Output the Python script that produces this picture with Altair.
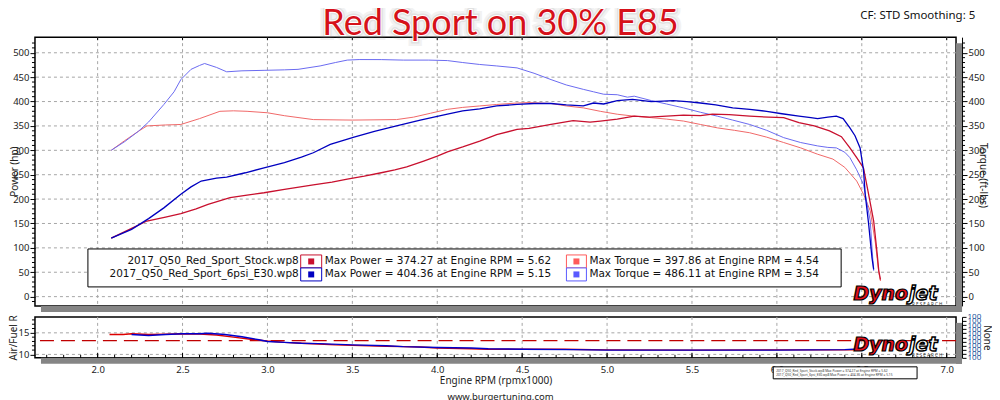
import altair as alt
import pandas as pd

# ---------------- data ----------------
stock_power_rpm = [2.08, 2.2, 2.29, 2.4, 2.49, 2.58, 2.65, 2.78, 2.88, 2.98, 3.1, 3.27, 3.38, 3.47, 3.57, 3.67,
                   3.75, 3.82, 3.92, 4.0, 4.06, 4.15, 4.25, 4.35, 4.47, 4.54, 4.67, 4.8, 4.9, 4.96, 5.06, 5.16,
                   5.25, 5.35, 5.45, 5.55, 5.62, 5.72, 5.84, 5.95, 6.04, 6.13, 6.22, 6.31, 6.38, 6.43, 6.47,
                   6.51, 6.54, 6.57, 6.59, 6.6, 6.61]
stock_power_hp = [120, 140, 155, 163, 170, 180, 189, 203, 208, 213, 220, 229, 235, 241, 247, 254,
                  260, 266, 278, 288, 297, 307, 319, 332, 343, 345, 353, 361, 358, 360, 364, 370,
                  368, 370, 372, 371, 374.27, 373, 370, 368, 367, 357, 350, 340, 328, 305, 285,
                  264, 210, 155, 90, 53, 35]

tuned_power_rpm = [2.08, 2.2, 2.3, 2.39, 2.49, 2.55, 2.61, 2.7, 2.76, 2.87, 2.98, 3.1, 3.2, 3.27, 3.37, 3.51,
                   3.63, 3.76, 3.9, 4.06, 4.15, 4.25, 4.35, 4.47, 4.57, 4.67, 4.76, 4.86, 4.92, 4.98, 5.06,
                   5.15, 5.26, 5.33, 5.39, 5.47, 5.55, 5.64, 5.74, 5.84, 5.94, 6.03, 6.13, 6.2, 6.24, 6.3,
                   6.35, 6.39, 6.43, 6.46, 6.49, 6.51, 6.52, 6.54, 6.56, 6.57]
tuned_power_hp = [120, 138, 160, 182, 210, 225, 237, 243, 245, 254, 264, 275, 286, 295, 312, 327,
                  339, 350, 362, 374, 381, 385, 391, 394, 396, 396, 393, 391, 397, 395, 402,
                  404.36, 400, 401, 402, 400, 397, 393, 387, 384, 380, 375, 370, 367, 365, 368,
                  370, 365, 346, 330, 305, 260, 210, 150, 80, 56]

stock_torque_rpm = [2.08, 2.16, 2.24, 2.29, 2.4, 2.49, 2.6, 2.72, 2.8, 2.88, 3.0, 3.1, 3.27, 3.5, 3.76, 3.86,
                    3.96, 4.06, 4.15, 4.25, 4.35, 4.47, 4.54, 4.67, 4.76, 4.86, 4.96, 5.06, 5.16, 5.26,
                    5.35, 5.45, 5.55, 5.65, 5.75, 5.84, 5.94, 6.04, 6.14, 6.24, 6.33, 6.4, 6.47, 6.51,
                    6.55, 6.58, 6.6, 6.61]
stock_torque_ftlb = [300, 320, 339, 350, 352, 353, 365, 380, 381, 380, 377, 371, 363, 362, 363, 368,
                     376, 384, 388, 391, 394, 397, 397.86, 396, 391, 387, 380, 374, 370, 367,
                     364, 360, 353, 346, 341, 336, 327, 316, 305, 292, 282, 265, 237, 210,
                     176, 110, 50, 32]

tuned_torque_rpm = [2.08, 2.16, 2.24, 2.3, 2.39, 2.45, 2.49, 2.55, 2.6, 2.63, 2.7, 2.76, 2.85, 2.98, 3.1, 3.18,
                    3.31, 3.4, 3.47, 3.54, 3.67, 3.8, 3.95, 4.06, 4.15, 4.25, 4.35, 4.47, 4.57, 4.67, 4.76,
                    4.86, 4.92, 4.98, 5.06, 5.12, 5.16, 5.26, 5.35, 5.45, 5.55, 5.65, 5.74, 5.84, 5.94,
                    6.04, 6.14, 6.24, 6.3, 6.35, 6.4, 6.43, 6.47, 6.51, 6.55, 6.56, 6.57]
tuned_torque_ftlb = [300, 318, 339, 358, 394, 420, 445, 466, 474, 478, 470, 461, 463, 464, 465, 466,
                     473, 480, 485, 486.11, 486, 485, 485, 484, 480, 476, 473, 469, 458, 445, 434,
                     425, 420, 415, 414, 409, 411, 402, 395, 387, 378, 370, 362, 353, 341,
                     326, 316, 309, 306, 305, 296, 285, 260, 230, 155, 100, 53]

afr_stock_rpm = [2.07, 2.15, 2.2, 2.3, 2.4, 2.5, 2.6, 2.7, 2.8, 2.9, 3.0, 3.1, 3.2, 3.3, 3.4, 3.5, 3.6, 3.7,
                 3.8, 3.9, 4.0, 4.2, 4.3, 4.5, 4.75, 5.0, 5.5, 6.0, 6.45]
afr_stock = [14.6, 14.6, 14.8, 14.6, 14.7, 14.8, 14.7, 14.5, 14.0, 13.5, 13.1, 12.8, 12.6, 12.4, 12.2, 12.1,
             12.0, 11.9, 11.8, 11.7, 11.5, 11.3, 11.2, 11.2, 11.2, 11.05, 11.0, 11.05, 11.05]
afr_tuned_rpm = [2.2, 2.3, 2.4, 2.5, 2.6, 2.65, 2.75, 2.85, 2.95, 3.0, 3.1, 3.2, 3.3, 3.5, 3.7, 3.8, 4.0,
                 4.2, 4.3, 4.5, 4.8, 5.0, 5.5, 6.0, 6.4, 6.5]
afr_tuned = [14.6, 14.4, 14.6, 14.8, 14.8, 14.9, 14.6, 14.1, 13.4, 13.0, 12.8, 12.6, 12.5, 12.2, 12.0, 11.8,
             11.6, 11.5, 11.3, 11.2, 11.1, 11.0, 11.0, 11.0, 11.1, 11.3]
afr_target = [13.2]

runs = ["2017_Q50_Red_Sport_Stock.wp8", "2017_Q50_Red_Sport_6psi_E30.wp8"]
max_power = ["374.27", "404.36"]
max_power_rpm = ["5.62", "5.15"]
max_torque = ["397.86", "486.11"]
max_torque_rpm = ["4.54", "3.54"]

x_ticks = [2.0, 2.5, 3.0, 3.5, 4.0, 4.5, 5.0, 5.5, 6.0, 6.5, 7.0]
x_minor = [round(1.7 + 0.1 * i, 1) for i in range(54)]
y_ticks = [0, 50, 100, 150, 200, 250, 300, 350, 400, 450, 500]
y_minor = [v for v in range(-10, 530, 10) if v % 50 != 0]
afr_ticks = [10, 15]
afr_minor = [11, 12, 13, 14, 16, 17, 18]
none_ticks = [0, 10, 20, 30, 40, 50, 60, 70, 80, 90, 100]

title_text = "Red Sport on 30% E85"
cf_text = "CF: STD Smoothing: 5"
site_text = "www.burgertuning.com"

# ---------------- styling ----------------
W, HM, HA = 922, 269, 41
XD = [1.631, 7.055]
YD = [-19, 532]
AD = [9.2, 18.7]
FONT = "Noto Sans"
LFONT = "DejaVu Sans"
GRID = "#a6a6a6"
SHADOW = "#858585"
C_SP, C_TP = "#c8102e", "#0000c0"
C_ST, C_TT = "#f06868", "#6a6af0"

xs = alt.Scale(domain=XD, nice=False, zero=False)
ys = alt.Scale(domain=YD, nice=False, zero=False)
afs = alt.Scale(domain=AD, nice=False, zero=False)


def line(rpm, vals, color, width, scale):
    df = pd.DataFrame({"rpm": rpm, "v": vals})
    return alt.Chart(df).mark_line(color=color, strokeWidth=width, clip=True).encode(
        x=alt.X("rpm:Q", scale=xs, axis=None),
        y=alt.Y("v:Q", scale=scale, axis=None),
    )


def vals(values):
    return pd.DataFrame({"v": values})


def rect(x, x2, y, y2, **kw):
    return alt.Chart(vals([0])).mark_rect(**kw).encode(
        x=alt.value(x), x2=alt.value(x2), y=alt.value(y), y2=alt.value(y2))


def text(t, x, y, **kw):
    return alt.Chart(vals([0])).mark_text(text=t, **kw).encode(x=alt.value(x), y=alt.value(y))


def dynojet(x, y):
    return [
        text("Dyno", x, y, align="right", baseline="alphabetic", font="DejaVu Sans", fontStyle="italic",
             fontWeight="bold", fontSize=19, fill="#e3101c", stroke="black", strokeWidth=1.2),
        text("jet", x + 1, y, align="left", baseline="alphabetic", font="DejaVu Sans", fontStyle="italic",
             fontWeight="bold", fontSize=19, fill="white", stroke="black", strokeWidth=1.4),
        text("R E S E A R C H", x + 4, y + 5, align="left", baseline="middle", font=FONT, fontSize=4.5,
             color="#333"),
    ]


# ---------------- main panel ----------------
vgrid_main = alt.Chart(vals(x_ticks)).mark_rule(color=GRID, strokeDash=[3, 3], strokeWidth=1).encode(
    x=alt.X("v:Q", scale=xs, axis=None))
hgrid_main = alt.Chart(vals(y_ticks)).mark_rule(color=GRID, strokeDash=[3, 3], strokeWidth=1).encode(
    y=alt.Y("v:Q", scale=ys, axis=alt.Axis(orient="left", values=y_ticks, title="Power (hp)", grid=False,
                                           domain=False, tickSize=5, tickColor="black", labelPadding=1,
                                           titleX=-15, titleY=134)))
right_axis = alt.Chart(vals(y_ticks)).mark_rule(opacity=0).encode(
    y=alt.Y("v:Q", scale=ys, axis=alt.Axis(orient="right", values=y_ticks, title="Torque (ft-lbs)", grid=False,
                                           offset=6, domain=True, domainColor="black", tickSize=5,
                                           tickColor="black", labelPadding=1, titleX=15, titleY=138)))
minor_left = alt.Chart(vals(y_minor)).mark_rule(color="black").encode(
    y=alt.Y("v:Q", scale=ys, axis=None), x=alt.value(-3), x2=alt.value(0))
minor_right = alt.Chart(vals(y_minor)).mark_rule(color="black").encode(
    y=alt.Y("v:Q", scale=ys, axis=None), x=alt.value(W + 6), x2=alt.value(W + 9))
top_ticks = alt.Chart(vals(x_ticks)).mark_rule(color="black").encode(
    x=alt.X("v:Q", scale=xs, axis=None), y=alt.value(0), y2=alt.value(3))

shadows_main = [rect(W, W + 6, 6, HM + 6, color=SHADOW), rect(6, W + 6, HM, HM + 6, color=SHADOW)]

# title with soft glow
TY, TS = -2, 36
title_layers = [
    text(title_text, 466, TY, align="center", baseline="alphabetic", font="Lato", fontSize=TS,
         fill="#888", stroke="#888", strokeWidth=10, opacity=0.10),
    text(title_text, 466, TY, align="center", baseline="alphabetic", font="Lato", fontSize=TS,
         fill="#888", stroke="#888", strokeWidth=5, opacity=0.15),
    text(title_text, 466, TY, align="center", baseline="alphabetic", font="Lato", fontSize=TS,
         fill="white", stroke="white", strokeWidth=2),
    text(title_text, 466, TY, align="center", baseline="alphabetic", font="Lato", fontSize=TS,
         fill="#d6111a"),
]
cf = text(cf_text, 826, -21, align="left", baseline="middle", font=FONT, fontSize=11.5, color="#111")

# legend box
LX, LX2, LY, LY2 = 53, 807, 212, 250
legend = [rect(LX, LX2, LY, LY2, fill="white", stroke="black", strokeWidth=1)]
row_y = [224.5, 237.5]
pcol = [C_SP, C_TP]
tcol = ["#ff5a5a", "#5a5aff"]
for i in range(2):
    yc = row_y[i]
    legend.append(text(runs[i], 264, yc, align="right", baseline="middle", font=LFONT, fontSize=10.5,
                       color="#111"))
    legend.append(rect(266, 287, yc - 6.5, yc + 6.5, fill="white", stroke=pcol[i], strokeWidth=1))
    legend.append(rect(273.5, 279.5, yc - 3, yc + 3, color=pcol[i]))
    legend.append(text("Max Power = %s at Engine RPM = %s" % (max_power[i], max_power_rpm[i]), 290, yc,
                       align="left", baseline="middle", font=LFONT, fontSize=10.5, color="#111"))
    legend.append(rect(532, 552, yc - 6.5, yc + 6.5, fill="white", stroke=tcol[i], strokeWidth=1))
    legend.append(rect(539, 545, yc - 3, yc + 3, color=tcol[i]))
    legend.append(text("Max Torque = %s at Engine RPM = %s" % (max_torque[i], max_torque_rpm[i]), 555, yc,
                       align="left", baseline="middle", font=LFONT, fontSize=10.5, color="#111"))

main = alt.layer(
    *shadows_main, vgrid_main, hgrid_main, right_axis, minor_left, minor_right, top_ticks,
    line(stock_torque_rpm, stock_torque_ftlb, C_ST, 1, ys),
    line(tuned_torque_rpm, tuned_torque_ftlb, C_TT, 1, ys),
    line(stock_power_rpm, stock_power_hp, C_SP, 1.3, ys),
    line(tuned_power_rpm, tuned_power_hp, C_TP, 1.3, ys),
    *legend, *dynojet(874, 263), *title_layers, cf,
).resolve_axis(y="independent").properties(width=W, height=HM)

# ---------------- AFR panel ----------------
vgrid_afr = alt.Chart(vals(x_ticks)).mark_rule(color=GRID, strokeDash=[3, 3], strokeWidth=1).encode(
    x=alt.X("v:Q", scale=xs, axis=alt.Axis(orient="bottom", values=x_ticks, format=".1f", grid=False,
                                           ticks=False, domain=False, offset=6, labelPadding=1,
                                           title="Engine RPM (rpmx1000)", titlePadding=1)))
hgrid_afr = alt.Chart(vals(afr_ticks)).mark_rule(color=GRID, strokeDash=[3, 3], strokeWidth=1).encode(
    y=alt.Y("v:Q", scale=afs, axis=alt.Axis(orient="left", values=afr_ticks, title="Air/Fuel R", grid=False,
                                            domain=False, tickSize=5, tickColor="black", labelPadding=1,
                                            titleX=-16, titleY=20.5)))
afr_minor_ticks = alt.Chart(vals(afr_minor)).mark_rule(color="black").encode(
    y=alt.Y("v:Q", scale=afs, axis=None), x=alt.value(-3), x2=alt.value(0))
target = alt.Chart(vals(afr_target)).mark_rule(color="#c00000", strokeDash=[14, 7], strokeWidth=1.4).encode(
    y=alt.Y("v:Q", scale=afs, axis=None))
in_major = alt.Chart(vals(x_ticks)).mark_rule(color="black").encode(
    x=alt.X("v:Q", scale=xs, axis=None), y=alt.value(HA - 5), y2=alt.value(HA))
in_minor = alt.Chart(vals(x_minor)).mark_rule(color="black").encode(
    x=alt.X("v:Q", scale=xs, axis=None), y=alt.value(HA - 3), y2=alt.value(HA))
none_axis = alt.Chart(vals(none_ticks)).mark_rule(opacity=0).encode(
    y=alt.Y("v:Q", scale=alt.Scale(domain=[0, 100], nice=False),
            axis=alt.Axis(orient="right", values=none_ticks, labelExpr="'100'", title="None", grid=False,
                          offset=6, domain=True, domainColor="black", tickSize=4, tickColor="black",
                          labelFontSize=8, labelColor="#23559c", labelPadding=1, labelOverlap=False,
                          titleX=19, titleY=20.5)))
shadows_afr = [rect(W, W + 6, 6, HA + 6, color=SHADOW), rect(6, W + 6, HA, HA + 6, color=SHADOW)]
mini_legend = [
    rect(739, 883, 50, 62, fill="white", stroke="black", strokeWidth=1),
    text("2017_Q50_Red_Sport_Stock.wp8  Max Power = 374.27 at Engine RPM = 5.62", 742, 54, align="left",
         baseline="middle", font=FONT, fontSize=3.2, color="#333"),
    text("2017_Q50_Red_Sport_6psi_E30.wp8  Max Power = 404.36 at Engine RPM = 5.15", 742, 58.5, align="left",
         baseline="middle", font=FONT, fontSize=3.2, color="#333"),
]
site = text(site_text, 466, 80, align="center", baseline="middle", font=FONT, fontSize=9.5, color="#222")

afr = alt.layer(
    *shadows_afr, vgrid_afr, hgrid_afr, afr_minor_ticks, target, in_major, in_minor,
    line(afr_stock_rpm, afr_stock, "#dd0000", 1.4, afs),
    line(afr_tuned_rpm, afr_tuned, "#0000cc", 1.4, afs),
    none_axis, *dynojet(874, 34), *mini_legend, site,
).resolve_scale(y="independent").resolve_axis(x="independent", y="independent").properties(width=W, height=HA)

chart = alt.vconcat(main, afr, spacing=11, bounds="flush").properties(
    padding={"left": 0, "top": -3, "right": 0, "bottom": 0}, background="white"
).configure_view(stroke="black", strokeWidth=1.5).configure_axis(
    labelFont=FONT, labelFontSize=9.5, labelColor="#222", titleFont=FONT, titleFontSize=10,
    titleFontWeight="normal", titleColor="#222")

chart.save("out.html", embed_options={"renderer": "svg", "actions": False})
